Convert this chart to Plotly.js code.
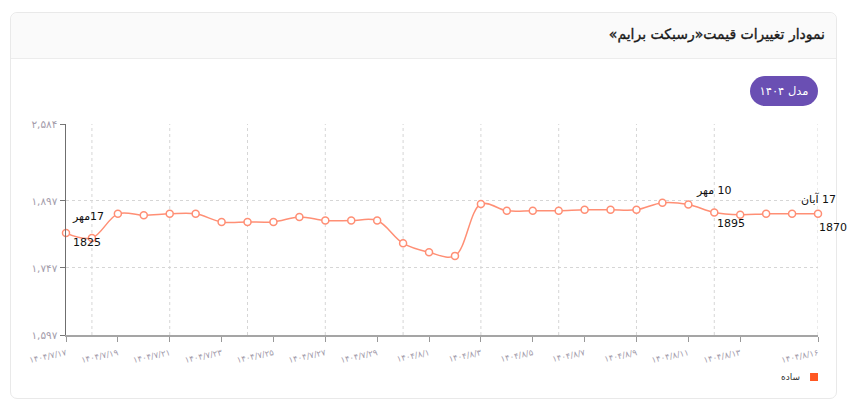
<!DOCTYPE html>
<html>
<head>
<meta charset="utf-8">
<script src="https://cdn.plot.ly/plotly-3.0.1.min.js"></script>
<style>
  html, body { margin:0; padding:0; width:850px; height:417px; background:#fff; overflow:hidden; font-family:"DejaVu Sans", sans-serif; }
  #card { position:absolute; left:10px; top:12px; width:827px; height:387px; border:1px solid #e9e9e9; border-radius:7px; background:#fff; box-sizing:border-box; }
  #head { position:absolute; left:0; top:0; right:0; height:45px; background:#fafafa; border-bottom:1px solid #ececec; border-radius:7px 7px 0 0; }
  #title { position:absolute; right:11px; top:13px; font-size:14px; font-weight:normal; color:#1a1a1a; direction:rtl; white-space:nowrap; -webkit-text-stroke:0.35px #1a1a1a; }
  #btn { position:absolute; left:750px; top:76px; width:68px; height:30px; border-radius:15px; background:#6a4fb3; color:#fff; font-size:11.5px; line-height:30px; text-align:center; direction:rtl; }
  #chart { position:absolute; left:0; top:0; width:850px; height:417px; }
</style>
</head>
<body>
<div id="card"><div id="head"><div id="title"></div></div></div>
<div id="btn"></div>
<div id="chart"></div>
<script>
// ---- data ----
const chartTitle = 'نمودار تغییرات قیمت«رسبکت برایم»';
const buttonText = 'مدل ۱۴۰۴';
const seriesName = 'ساده';
const dates = [
  '۱۴۰۴/۷/۱۷','۱۴۰۴/۷/۱۸','۱۴۰۴/۷/۱۹','۱۴۰۴/۷/۲۰','۱۴۰۴/۷/۲۱','۱۴۰۴/۷/۲۲','۱۴۰۴/۷/۲۳',
  '۱۴۰۴/۷/۲۴','۱۴۰۴/۷/۲۵','۱۴۰۴/۷/۲۶','۱۴۰۴/۷/۲۷','۱۴۰۴/۷/۲۸','۱۴۰۴/۷/۲۹','۱۴۰۴/۷/۳۰',
  '۱۴۰۴/۸/۱','۱۴۰۴/۸/۲','۱۴۰۴/۸/۳','۱۴۰۴/۸/۴','۱۴۰۴/۸/۵','۱۴۰۴/۸/۶','۱۴۰۴/۸/۷',
  '۱۴۰۴/۸/۸','۱۴۰۴/۸/۹','۱۴۰۴/۸/۱۰','۱۴۰۴/۸/۱۱','۱۴۰۴/۸/۱۲','۱۴۰۴/۸/۱۳','۱۴۰۴/۸/۱۴',
  '۱۴۰۴/۸/۱۵','۱۴۰۴/۸/۱۶'
];
const prices = [
  1825,1814,1868,1865,1868,1868,1850,
  1850,1850,1861,1853,1853,1853,1802,
  1782,1774,1890,1875,1875,1875,1877,
  1877,1877,1893,1889,1871,1866,1868,
  1868,1868
];
const tickDates = ['۱۴۰۴/۷/۱۷','۱۴۰۴/۷/۱۹','۱۴۰۴/۷/۲۱','۱۴۰۴/۷/۲۳','۱۴۰۴/۷/۲۵','۱۴۰۴/۷/۲۷','۱۴۰۴/۷/۲۹',
  '۱۴۰۴/۸/۱','۱۴۰۴/۸/۳','۱۴۰۴/۸/۵','۱۴۰۴/۸/۷','۱۴۰۴/۸/۹','۱۴۰۴/۸/۱۱','۱۴۰۴/۸/۱۳','۱۴۰۴/۸/۱۶'];
const gridDates = ['۱۴۰۴/۷/۱۸','۱۴۰۴/۷/۲۱','۱۴۰۴/۷/۲۴','۱۴۰۴/۷/۲۷','۱۴۰۴/۷/۳۰','۱۴۰۴/۸/۳',
  '۱۴۰۴/۸/۶','۱۴۰۴/۸/۹','۱۴۰۴/۸/۱۲','۱۴۰۴/۸/۱۶'];
const yTickVals = [1597, 1747, 1897, 2069];
const yTickText = ['۱,۵۹۷', '۱,۷۴۷', '۱,۸۹۷', '۲,۵۸۴'];
const yRange = [1597, 2069];
const noteDates = ['۱۴۰۴/۷/۱۷', '۱۴۰۴/۸/۱۲', '۱۴۰۴/۸/۱۶'];
const noteTop = ['مهر\u200E17', 'مهر\u200E 10', 'آبان\u200E 17'];
const noteBottom = ['1825', '1895', '1870'];

// ---- build ----
document.getElementById('title').textContent = chartTitle;
document.getElementById('btn').textContent = buttonText;

const xIdx = dates.map((d, i) => i);
const idxOf = d => dates.indexOf(d);

const lineColor = '#ff8f75';
const trace = {
  x: xIdx, y: prices, type: 'scatter', mode: 'lines+markers',
  line: {color: lineColor, width: 1.5, shape: 'spline', smoothing: 1},
  marker: {size: 7, color: '#fff', line: {color: lineColor, width: 1.5}},
  cliponaxis: false, showlegend: false, name: seriesName, hoverinfo: 'skip'
};

const annFont = {family: 'DejaVu Sans, sans-serif', size: 11, color: '#111'};
const topShift = [{xa:'left', xs:4, ys:17}, {xa:'center', xs:0, ys:22}, {xa:'center', xs:0, ys:15}];
const botShift = [{xa:'left', xs:5, ys:-9}, {xa:'left', xs:1, ys:-11}, {xa:'left', xs:-1, ys:-14}];
const annotations = [];
noteDates.forEach((d, k) => {
  const i = idxOf(d);
  annotations.push({x: i, y: prices[i], xref: 'x', yref: 'y', text: noteTop[k], showarrow: false,
    xanchor: topShift[k].xa, xshift: topShift[k].xs, yshift: topShift[k].ys, font: annFont});
  annotations.push({x: i, y: prices[i], xref: 'x', yref: 'y', text: noteBottom[k], showarrow: false,
    xanchor: botShift[k].xa, xshift: botShift[k].xs, yshift: botShift[k].ys, font: annFont});
});
// legend (RTL style: label left of swatch)
annotations.push({x: 0.979, y: -0.198, xref: 'paper', yref: 'paper', text: seriesName, showarrow: false,
  xanchor: 'right', yanchor: 'middle', font: {family: 'DejaVu Sans, sans-serif', size: 9, color: '#333'}});

const shapes = [{type: 'rect', xref: 'paper', yref: 'paper', x0: 0.9894, x1: 1.0, y0: -0.218, y1: -0.180,
  fillcolor: '#ff5722', line: {width: 0}}];
// vertical dotted grid lines (every third day)
gridDates.forEach(d => {
  shapes.push({type: 'line', xref: 'x', yref: 'paper', x0: idxOf(d), x1: idxOf(d), y0: 0, y1: 1,
    layer: 'below', line: {color: '#d6d6d6', width: 1, dash: 'dot'}});
});

const tickFont = {family: 'DejaVu Sans, sans-serif', size: 8.5, color: '#a39cab'};
const layout = {
  width: 850, height: 417,
  margin: {l: 66, r: 32, t: 124, b: 82, pad: 0},
  paper_bgcolor: 'rgba(0,0,0,0)', plot_bgcolor: 'rgba(0,0,0,0)',
  showlegend: false,
  xaxis: {
    range: [0, dates.length - 1], fixedrange: true,
    tickmode: 'array', tickvals: tickDates.map(idxOf), ticktext: tickDates,
    tickangle: -12, tickfont: tickFont, ticklabelstandoff: 3,
    ticks: 'outside', ticklen: 5, tickcolor: '#999', tickwidth: 1,
    showgrid: false, showline: true, linecolor: '#a5a5a5', linewidth: 2, zeroline: false
  },
  yaxis: {
    range: yRange, fixedrange: true,
    tickmode: 'array', tickvals: yTickVals, ticktext: yTickText,
    tickfont: {family: 'DejaVu Sans, sans-serif', size: 10.5, color: '#a39cab'},
    ticks: 'outside', ticklen: 5, tickcolor: '#777',
    showgrid: true, gridcolor: '#d6d6d6', griddash: 'dot', gridwidth: 1,
    showline: true, linecolor: '#6f6f6f', linewidth: 1.5, zeroline: false
  },
  annotations: annotations,
  shapes: shapes
};

Plotly.newPlot('chart', [trace], layout, {displayModeBar: false, staticPlot: true});
</script>
</body>
</html>
